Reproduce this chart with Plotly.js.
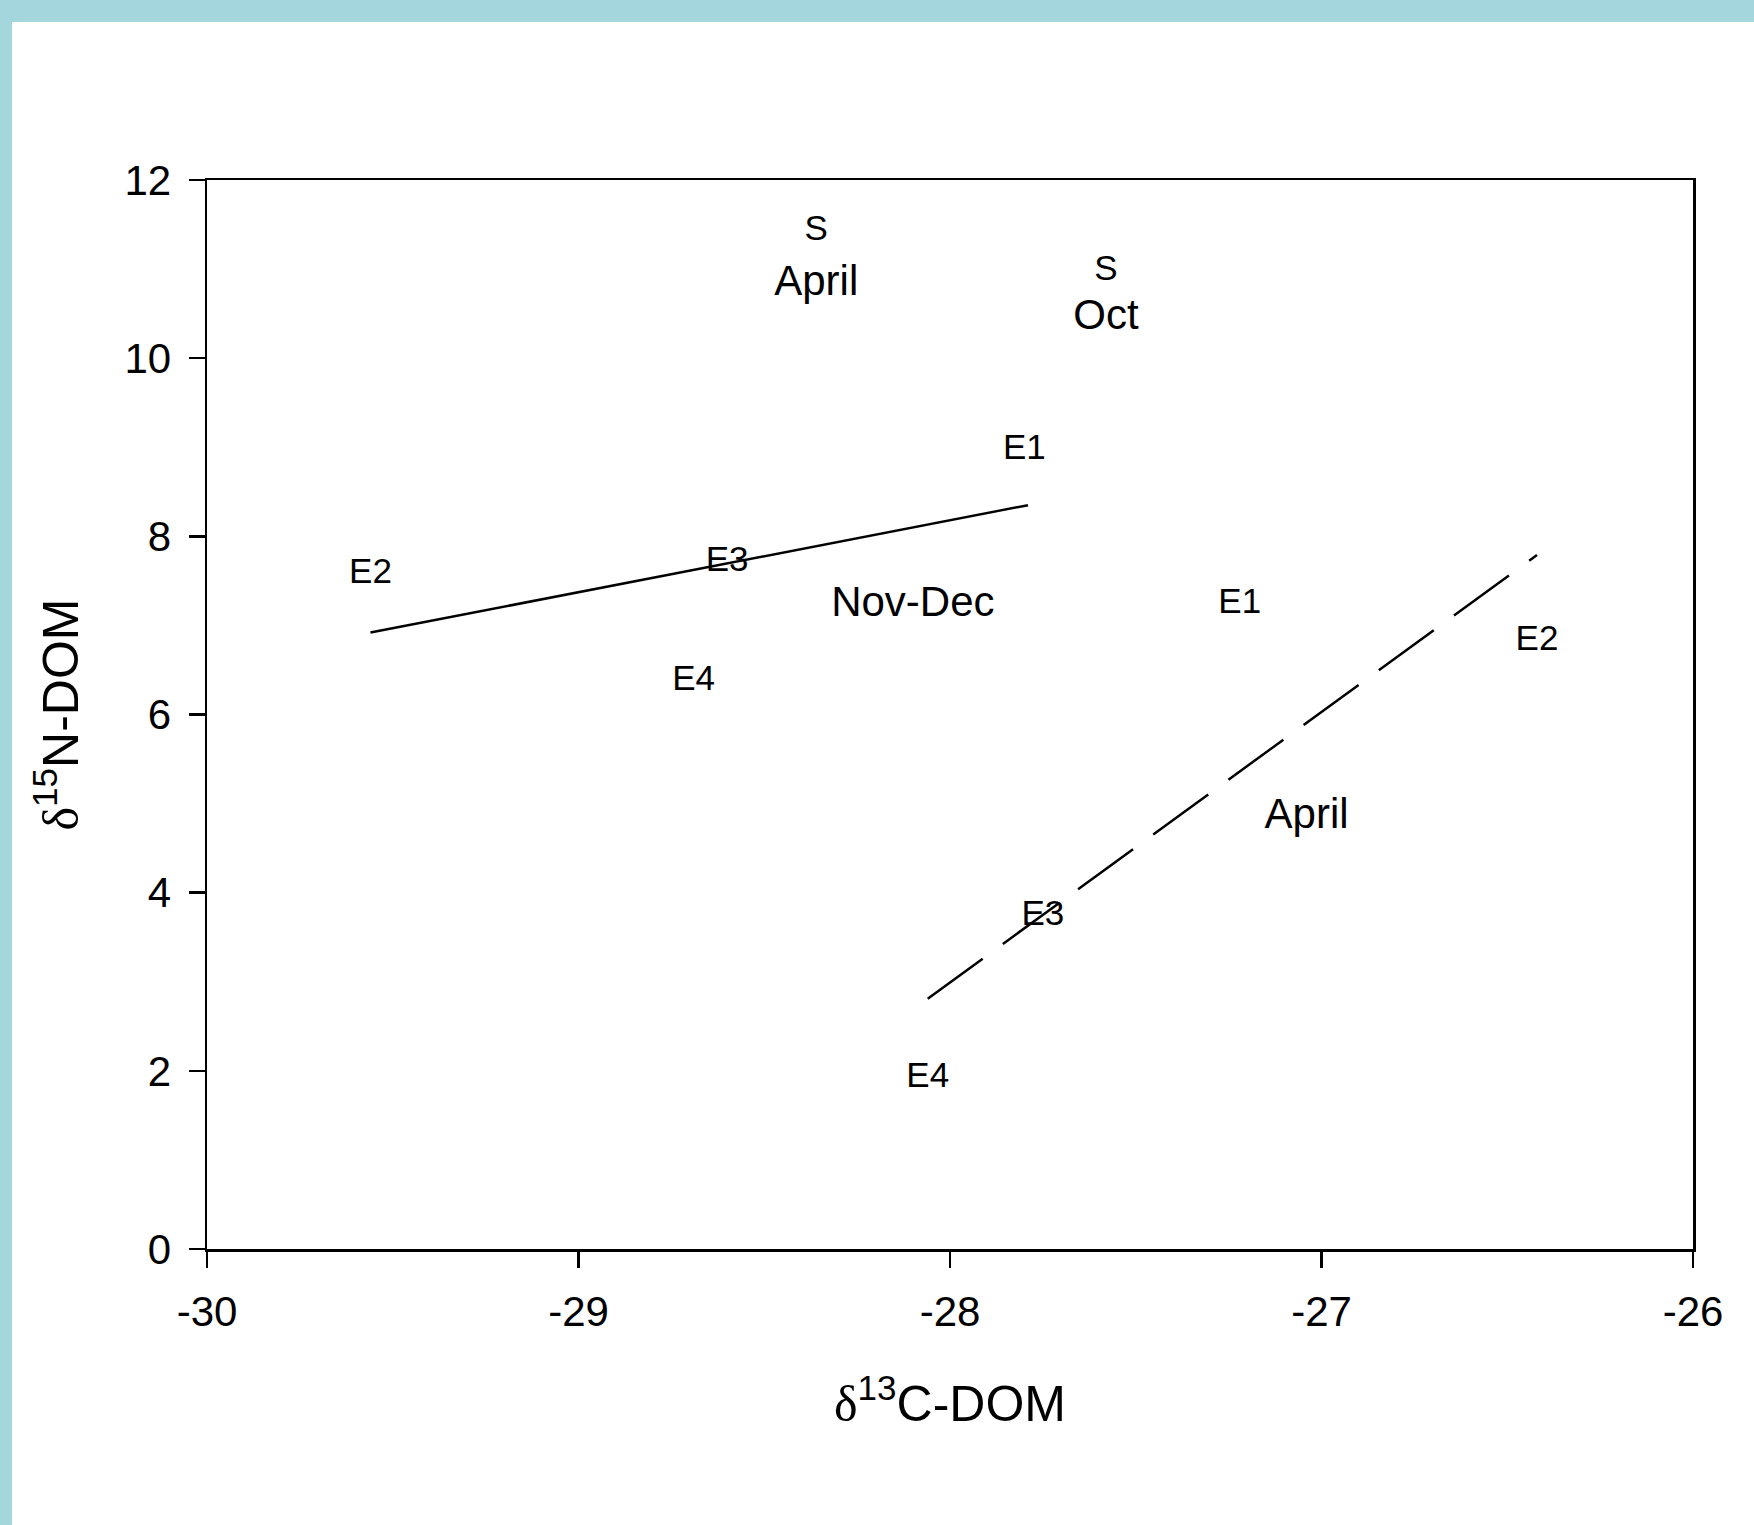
<!DOCTYPE html>
<html>
<head>
<meta charset="utf-8">
<script src="https://cdn.plot.ly/plotly-3.0.1.min.js"></script>
<style>
  html, body { margin: 0; padding: 0; background: #A3D7DD; width: 1754px; height: 1525px; overflow: hidden; }
  #chart { position: absolute; left: 12px; top: 22px; width: 1742px; height: 1503px; background: #ffffff; }
</style>
</head>
<body>
<div id="chart"></div>
<script>
// Nov-Dec sites
const novDecLabels = ["E1", "E2", "E3", "E4"];
const novDecX = [-27.80, -29.56, -28.60, -28.69];
const novDecY = [8.97, 7.57, 7.71, 6.37];

// April sites
const aprilLabels = ["E1", "E2", "E3", "E4"];
const aprilX = [-27.22, -26.42, -27.75, -28.06];
const aprilY = [7.24, 6.82, 3.74, 1.92];

// Source (S) points
const sourceLabels = ["S", "S"];
const sourceX = [-28.36, -27.58];
const sourceY = [11.42, 10.98];

// Period labels
const periodLabels = ["April", "Oct", "Nov-Dec", "April"];
const periodX = [-28.36, -27.58, -28.10, -27.04];
const periodY = [10.83, 10.45, 7.22, 4.84];

// Regression lines (end points)
const novDecFitX = [-29.56, -27.79];
const novDecFitY = [6.92, 8.35];
const aprilFitX = [-28.06, -26.42];
const aprilFitY = [2.81, 7.79];

// Tick values and labels
const xTickVals = [-30, -29, -28, -27, -26];
const xTickText = ["-30", "-29", "-28", "-27", "-26"];
const yTickVals = [0, 2, 4, 6, 8, 10, 12];
const yTickText = ["0", "2", "4", "6", "8", "10", "12"];

const FONT = "Arial, 'Liberation Sans', Helvetica, sans-serif";
const DELTA = "<span style=\"font-family:'Liberation Serif', 'Times New Roman', serif\">δ</span>";

const traces = [
  { x: novDecFitX, y: novDecFitY, mode: "lines", line: { color: "#000", width: 2.5 }, hoverinfo: "skip" },
  { x: aprilFitX, y: aprilFitY, mode: "lines", line: { color: "#000", width: 2.5, dash: "68px,25px" }, hoverinfo: "skip" },
  { x: novDecX, y: novDecY, mode: "text", text: novDecLabels, textposition: "middle center",
    textfont: { family: FONT, size: 35, color: "#000" } },
  { x: aprilX, y: aprilY, mode: "text", text: aprilLabels, textposition: "middle center",
    textfont: { family: FONT, size: 35, color: "#000" } },
  { x: sourceX, y: sourceY, mode: "text", text: sourceLabels, textposition: "middle center",
    textfont: { family: FONT, size: 35, color: "#000" } },
  { x: periodX, y: periodY, mode: "text", text: periodLabels, textposition: "middle center",
    textfont: { family: FONT, size: 42, color: "#000" } }
];

const layout = {
  width: 1742, height: 1503,
  margin: { l: 195, r: 61, t: 158, b: 276 },
  paper_bgcolor: "#ffffff", plot_bgcolor: "#ffffff",
  showlegend: false,
  font: { family: FONT, color: "#000" },
  xaxis: {
    range: [-30, -26], tickmode: "array", tickvals: xTickVals, ticktext: xTickText,
    showgrid: false, zeroline: false,
    showline: true, linecolor: "#000", linewidth: 2.5, mirror: true,
    ticks: "outside", ticklen: 16, tickwidth: 2.5, tickcolor: "#000",
    tickfont: { family: FONT, size: 42, color: "#000" },
    ticklabelstandoff: 8,
    title: { text: DELTA + "<sup>13</sup>C-DOM", font: { family: FONT, size: 50, color: "#000" }, standoff: 52 }
  },
  yaxis: {
    range: [0, 12], tickmode: "array", tickvals: yTickVals, ticktext: yTickText,
    showgrid: false, zeroline: false,
    showline: true, linecolor: "#000", linewidth: 2.5, mirror: true,
    ticks: "outside", ticklen: 16, tickwidth: 2.5, tickcolor: "#000",
    tickfont: { family: FONT, size: 42, color: "#000" },
    ticklabelstandoff: 9,
    title: { text: DELTA + "<sup>15</sup>N-DOM", font: { family: FONT, size: 50, color: "#000" }, standoff: 30 }
  }
};

Plotly.newPlot("chart", traces, layout, { displayModeBar: false, staticPlot: true });
</script>
</body>
</html>
